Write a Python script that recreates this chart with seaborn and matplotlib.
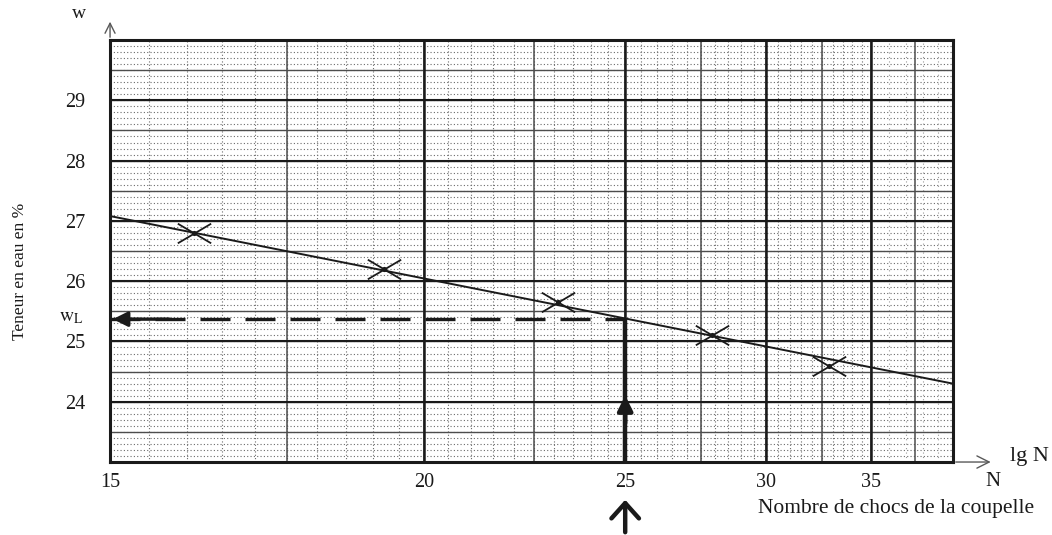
import numpy as np
import matplotlib
matplotlib.use("Agg")
import matplotlib.pyplot as plt
from matplotlib.path import Path
import seaborn as sns

# ---------- DATA ----------
N_points = [16.1, 19.2, 23.1, 27.9, 32.8]      # nombre de chocs
w_points = [26.8, 26.2, 25.65, 25.1, 24.6]     # teneur en eau (%)
N_line = [15, 40]
w_line = [27.08, 24.30]
N_L = 25
w_L = 25.37
x_ticks = [15, 20, 25, 30, 35]
y_ticks = [24, 25, 26, 27, 28, 29]
x_lim = (15, 40)
y_lim = (23, 30)

# ---------- STYLE ----------
sns.set_style("white")
plt.rcParams['font.family'] = ['Liberation Serif', 'DejaVu Serif']
plt.rcParams['mathtext.fontset'] = 'stix'
INK = '#1a1a1a'

# scanned abacus paper: compressive scale close to lg N
P = 0.75
def fwd(x):
    return -np.power(np.clip(x, 1e-6, None), -P)
def inv(y):
    return np.power(np.clip(-y, 1e-12, None), -1.0 / P)

fig = plt.figure(figsize=(10.52, 5.35), dpi=100)
ax = fig.add_axes([0.1046, 0.1364, 0.8013, 0.7888])
ax.set_xscale('function', functions=(fwd, inv))
ax.set_xlim(*x_lim)
ax.set_ylim(*y_lim)

# ---------- GRID (three levels) ----------
for w in np.arange(y_lim[0], y_lim[1] + 0.01, 0.1):
    ax.axhline(w, color='0.42', lw=0.8, ls=(0, (1, 2)), zorder=0.5)
for w in np.arange(y_lim[0], y_lim[1] + 0.01, 0.5):
    ax.axhline(w, color='0.3', lw=1.0, zorder=0.6)
for w in y_ticks:
    ax.axhline(w, color=INK, lw=1.5, zorder=0.7)

for n in np.arange(15, 35.01, 0.5):
    ax.axvline(n, color='0.42', lw=0.8, ls=(0, (1, 2)), zorder=0.5)
for n in np.arange(36, 40, 1.0):
    ax.axvline(n, color='0.6', lw=0.8, ls=(0, (1, 3)), zorder=0.5)
for n in np.arange(15, 40.01, 2.5):
    ax.axvline(n, color='0.3', lw=1.1, zorder=0.6)
for n in x_ticks[1:]:
    ax.axvline(n, color=INK, lw=1.8, zorder=0.7)

# ---------- DATA MARKS ----------
sns.lineplot(x=N_line, y=w_line, ax=ax, color=INK, lw=1.4, zorder=3)

cross = Path([(-1.7, -1), (1.7, 1), (-1.7, 1), (1.7, -1)],
             [Path.MOVETO, Path.LINETO, Path.MOVETO, Path.LINETO])
sns.scatterplot(x=N_points, y=w_points, ax=ax, marker=cross, s=576,
                color=INK, edgecolor=INK, linewidth=1.3, zorder=4)
sns.scatterplot(x=N_points, y=w_points, ax=ax, marker='o', s=14,
                color=INK, edgecolor=INK, linewidth=0, zorder=4)

# construction of w_L
ax.plot([x_lim[0], N_L], [w_L, w_L], color=INK, lw=2.4, dashes=(9, 4.5), zorder=3)
ax.plot([N_L, N_L], [y_lim[0], w_L], color=INK, lw=3.2, zorder=3,
        solid_capstyle='butt')
ax.annotate('', xy=(x_lim[0], w_L), xytext=(15.8, w_L),
            arrowprops=dict(arrowstyle='-|>', color=INK, lw=2.4,
                            mutation_scale=22), zorder=5)
ax.annotate('', xy=(N_L, 24.15), xytext=(N_L, 23.6),
            arrowprops=dict(arrowstyle='-|>', color=INK, lw=3.2,
                            mutation_scale=22), zorder=5)
ax.annotate('', xy=(N_L, 1 - 497 / 535), xycoords=('data', 'figure fraction'),
            xytext=(N_L, 0.0), textcoords=('data', 'figure fraction'),
            arrowprops=dict(arrowstyle='->, head_length=0.5, head_width=0.45',
                            color=INK, lw=3.2, mutation_scale=22),
            annotation_clip=False)

# axis arrows
ax.annotate('', xy=(0, 1.05), xycoords='axes fraction',
            xytext=(0, 1.0), textcoords='axes fraction',
            arrowprops=dict(arrowstyle='->', color='0.35', lw=1.0,
                            mutation_scale=18), annotation_clip=False)
ax.annotate('', xy=(1.048, 0), xycoords='axes fraction',
            xytext=(1.0, 0), textcoords='axes fraction',
            arrowprops=dict(arrowstyle='->', color='0.35', lw=1.0,
                            mutation_scale=22), annotation_clip=False)

# ---------- TICKS / SPINES ----------
ax.set_xticks(x_ticks, [str(t) for t in x_ticks])
ax.set_xticks([], minor=True)
ax.set_yticks(y_ticks, [str(t) for t in y_ticks])
ax.tick_params(axis='both', length=0, labelsize=14.5, colors=INK)
ax.tick_params(axis='x', pad=8)
ax.tick_params(axis='y', pad=18)
for sp in ax.spines.values():
    sp.set_linewidth(2.2)
    sp.set_color(INK)
    sp.set_zorder(6)
ax.set_xlabel('')
ax.set_ylabel('')

# ---------- TEXT ----------
fig.text(79 / 1052, 1 - 14 / 535, 'w', ha='center', va='center',
         fontsize=14, color=INK)
fig.text(20 / 1052, 1 - 271 / 535, 'Teneur en eau en %', rotation=90,
         ha='center', va='center', fontsize=12.5, color=INK)
fig.text(84 / 1052, 1 - 318 / 535, r'$\mathrm{w_L}$', ha='right',
         va='center', fontsize=14, color=INK)
fig.text(1029 / 1052, 1 - 456 / 535, 'lg N', ha='center', va='center',
         fontsize=16, color=INK)
fig.text(993 / 1052, 1 - 481 / 535, 'N', ha='center', va='center',
         fontsize=15, color=INK)
fig.text(896 / 1052, 1 - 508 / 535, 'Nombre de chocs de la coupelle',
         ha='center', va='center', fontsize=15.5, color=INK)

fig.savefig('out.png', dpi=100)
